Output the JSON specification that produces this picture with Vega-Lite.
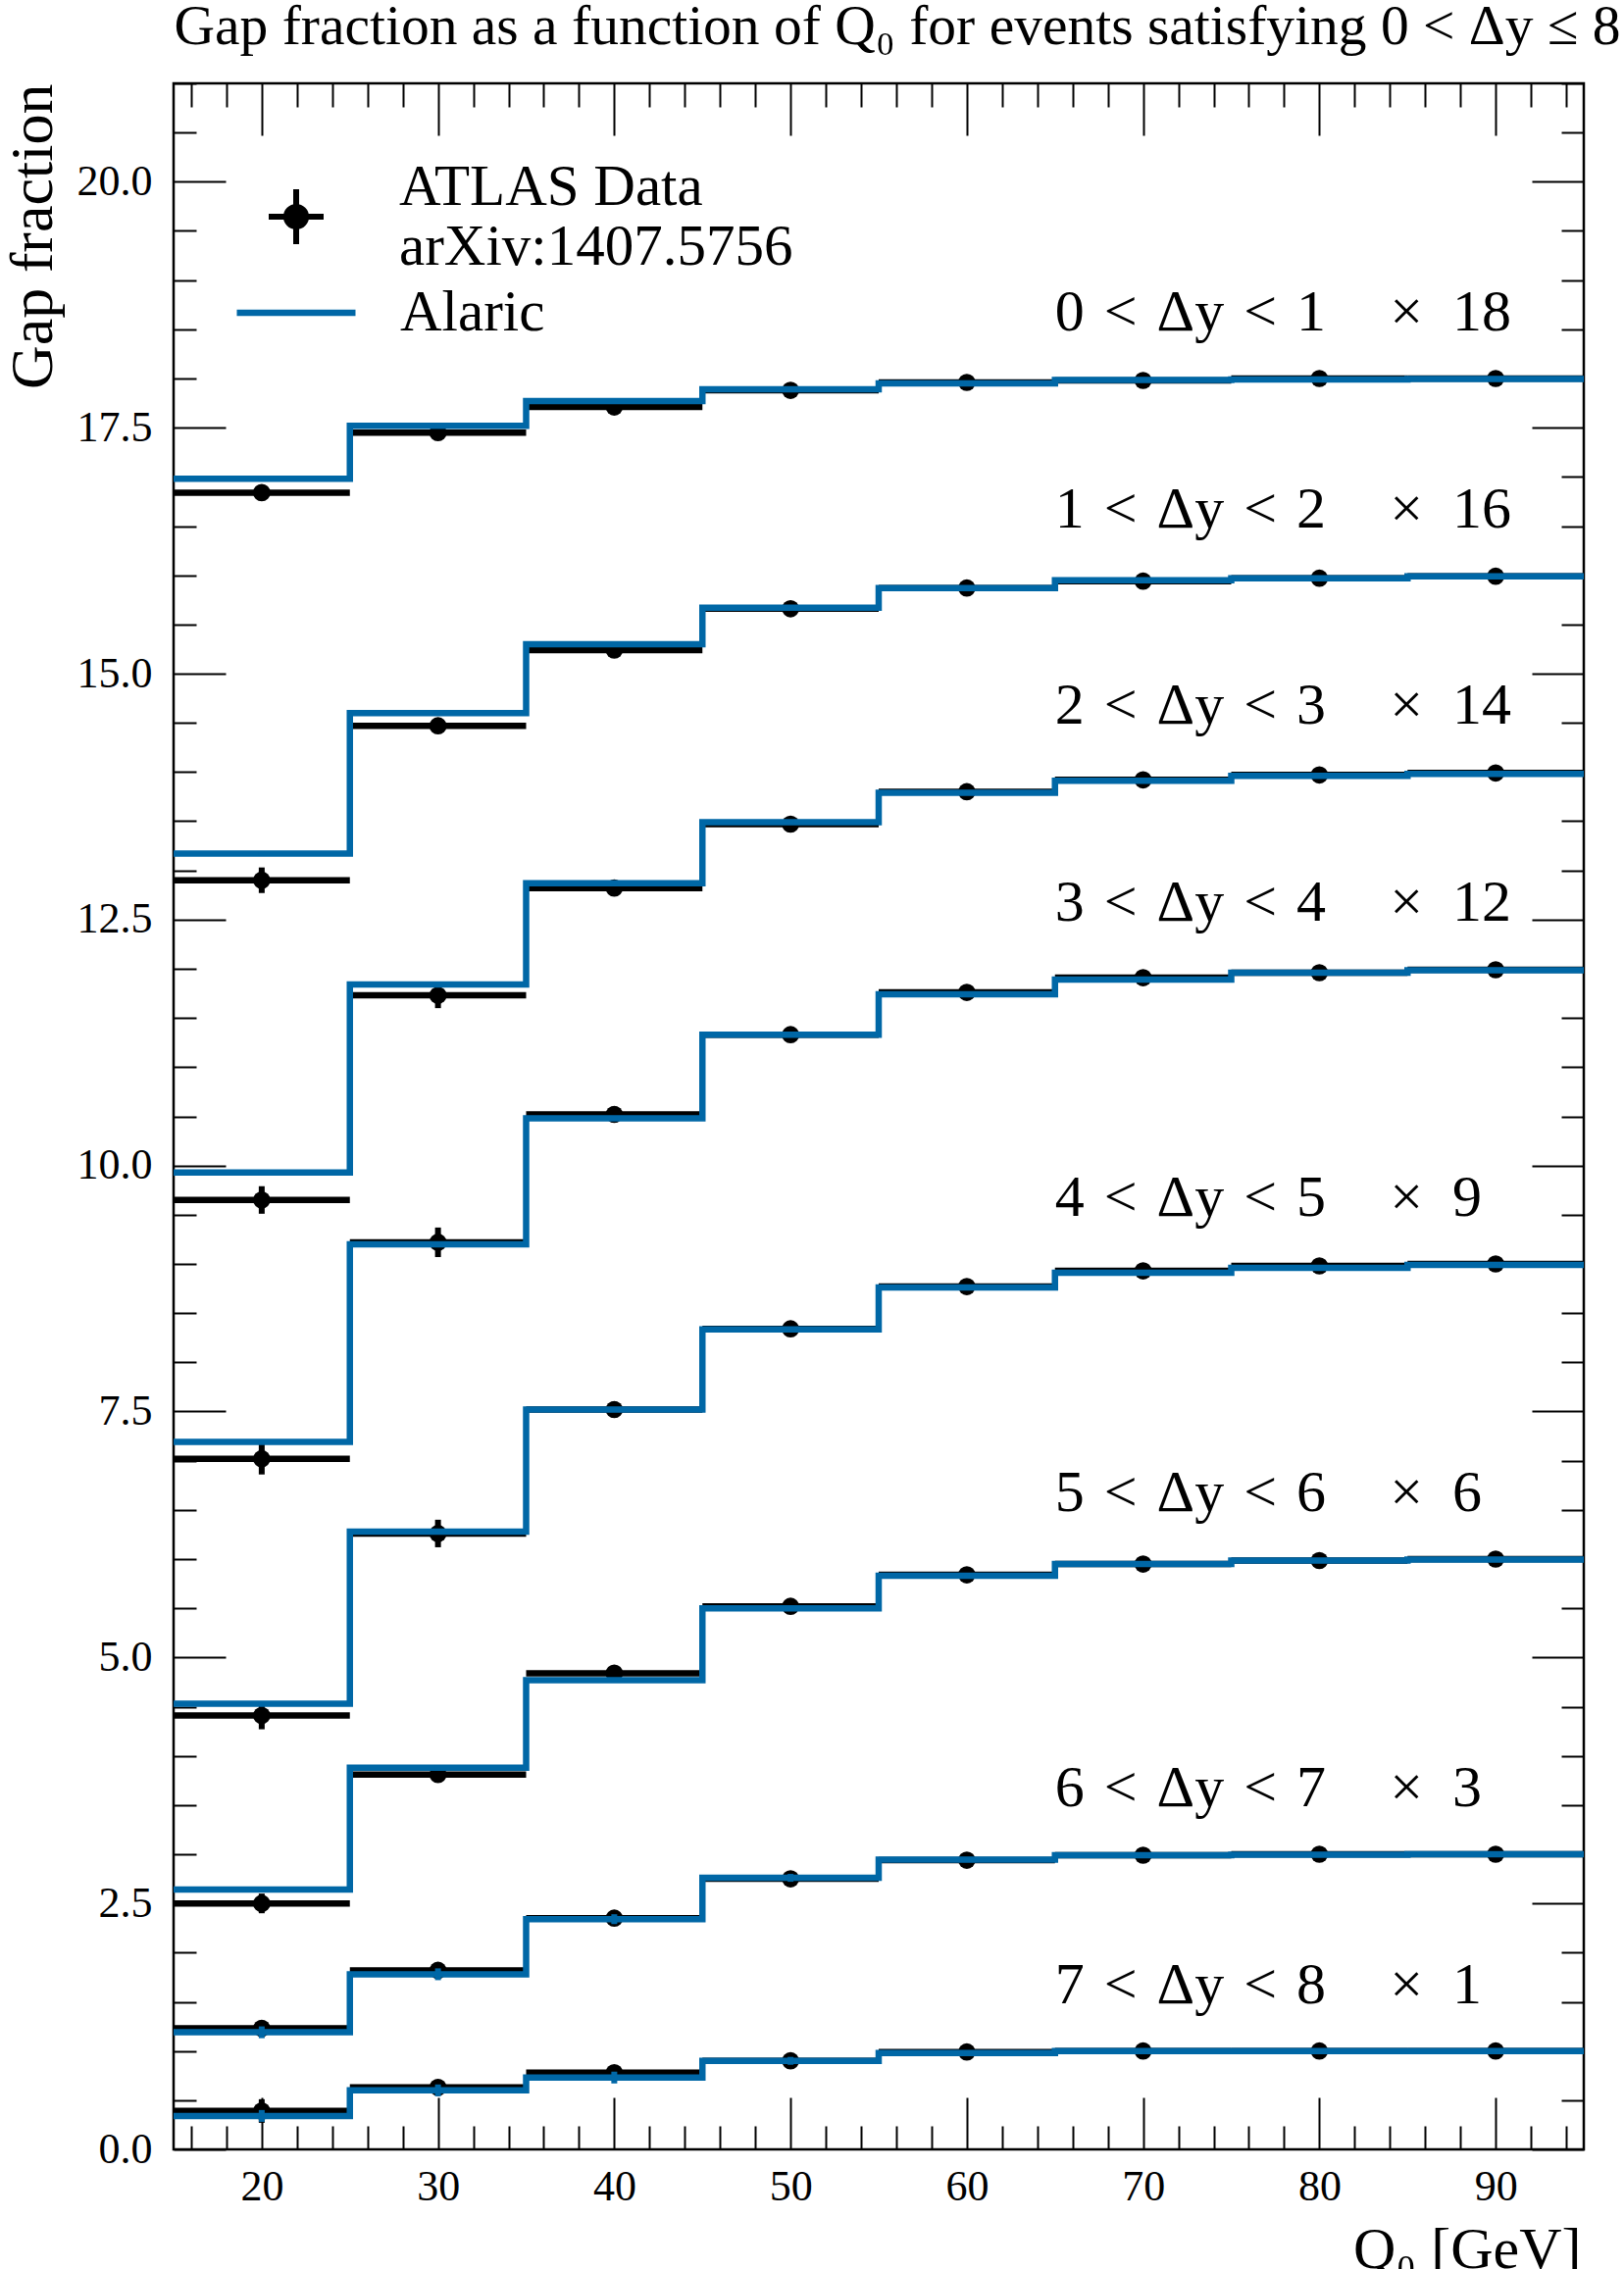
{
  "$schema": "https://vega.github.io/schema/vega-lite/v6.json",
  "width": 1438,
  "height": 2107,
  "autosize": {"type": "none"},
  "padding": {"left": 177, "top": 85, "right": 41, "bottom": 122},
  "background": "white",
  "config": {
    "font": "Liberation Serif",
    "view": {"stroke": "black", "strokeWidth": 2.5}
  },
  "datasets": {
    "bins": [
      {"dy": "0 < \u0394y < 1", "factor": 18, "q0": 20, "lo": 15, "hi": 25, "data": 16.84, "err": 0.06, "mc": 16.98, "mcErr": 0.02},
      {"dy": "0 < \u0394y < 1", "factor": 18, "q0": 30, "lo": 25, "hi": 35, "data": 17.45, "err": 0.04, "mc": 17.52, "mcErr": 0.02},
      {"dy": "0 < \u0394y < 1", "factor": 18, "q0": 40, "lo": 35, "hi": 45, "data": 17.71, "err": 0.03, "mc": 17.77, "mcErr": 0.02},
      {"dy": "0 < \u0394y < 1", "factor": 18, "q0": 50, "lo": 45, "hi": 55, "data": 17.88, "err": 0.02, "mc": 17.89, "mcErr": 0.02},
      {"dy": "0 < \u0394y < 1", "factor": 18, "q0": 60, "lo": 55, "hi": 65, "data": 17.96, "err": 0.02, "mc": 17.95, "mcErr": 0.02},
      {"dy": "0 < \u0394y < 1", "factor": 18, "q0": 70, "lo": 65, "hi": 75, "data": 17.98, "err": 0.02, "mc": 17.985, "mcErr": 0.02},
      {"dy": "0 < \u0394y < 1", "factor": 18, "q0": 80, "lo": 75, "hi": 85, "data": 18.0, "err": 0.02, "mc": 17.99, "mcErr": 0.02},
      {"dy": "0 < \u0394y < 1", "factor": 18, "q0": 90, "lo": 85, "hi": 95, "data": 18.0, "err": 0.02, "mc": 17.995, "mcErr": 0.02},

      {"dy": "1 < \u0394y < 2", "factor": 16, "q0": 20, "lo": 15, "hi": 25, "data": 12.9, "err": 0.13, "mc": 13.17, "mcErr": 0.02},
      {"dy": "1 < \u0394y < 2", "factor": 16, "q0": 30, "lo": 25, "hi": 35, "data": 14.47, "err": 0.06, "mc": 14.6, "mcErr": 0.02},
      {"dy": "1 < \u0394y < 2", "factor": 16, "q0": 40, "lo": 35, "hi": 45, "data": 15.24, "err": 0.04, "mc": 15.3, "mcErr": 0.02},
      {"dy": "1 < \u0394y < 2", "factor": 16, "q0": 50, "lo": 45, "hi": 55, "data": 15.66, "err": 0.03, "mc": 15.67, "mcErr": 0.02},
      {"dy": "1 < \u0394y < 2", "factor": 16, "q0": 60, "lo": 55, "hi": 65, "data": 15.87, "err": 0.02, "mc": 15.87, "mcErr": 0.02},
      {"dy": "1 < \u0394y < 2", "factor": 16, "q0": 70, "lo": 65, "hi": 75, "data": 15.94, "err": 0.02, "mc": 15.95, "mcErr": 0.02},
      {"dy": "1 < \u0394y < 2", "factor": 16, "q0": 80, "lo": 75, "hi": 85, "data": 15.97, "err": 0.02, "mc": 15.97, "mcErr": 0.02},
      {"dy": "1 < \u0394y < 2", "factor": 16, "q0": 90, "lo": 85, "hi": 95, "data": 15.99, "err": 0.02, "mc": 15.99, "mcErr": 0.02},

      {"dy": "2 < \u0394y < 3", "factor": 14, "q0": 20, "lo": 15, "hi": 25, "data": 9.65, "err": 0.14, "mc": 9.93, "mcErr": 0.02},
      {"dy": "2 < \u0394y < 3", "factor": 14, "q0": 30, "lo": 25, "hi": 35, "data": 11.73, "err": 0.13, "mc": 11.84, "mcErr": 0.02},
      {"dy": "2 < \u0394y < 3", "factor": 14, "q0": 40, "lo": 35, "hi": 45, "data": 12.82, "err": 0.06, "mc": 12.87, "mcErr": 0.02},
      {"dy": "2 < \u0394y < 3", "factor": 14, "q0": 50, "lo": 45, "hi": 55, "data": 13.47, "err": 0.04, "mc": 13.49, "mcErr": 0.02},
      {"dy": "2 < \u0394y < 3", "factor": 14, "q0": 60, "lo": 55, "hi": 65, "data": 13.8, "err": 0.03, "mc": 13.79, "mcErr": 0.02},
      {"dy": "2 < \u0394y < 3", "factor": 14, "q0": 70, "lo": 65, "hi": 75, "data": 13.92, "err": 0.02, "mc": 13.91, "mcErr": 0.02},
      {"dy": "2 < \u0394y < 3", "factor": 14, "q0": 80, "lo": 75, "hi": 85, "data": 13.97, "err": 0.02, "mc": 13.96, "mcErr": 0.02},
      {"dy": "2 < \u0394y < 3", "factor": 14, "q0": 90, "lo": 85, "hi": 95, "data": 13.99, "err": 0.02, "mc": 13.98, "mcErr": 0.02},

      {"dy": "3 < \u0394y < 4", "factor": 12, "q0": 20, "lo": 15, "hi": 25, "data": 7.02, "err": 0.16, "mc": 7.19, "mcErr": 0.02},
      {"dy": "3 < \u0394y < 4", "factor": 12, "q0": 30, "lo": 25, "hi": 35, "data": 9.22, "err": 0.15, "mc": 9.2, "mcErr": 0.02},
      {"dy": "3 < \u0394y < 4", "factor": 12, "q0": 40, "lo": 35, "hi": 45, "data": 10.52, "err": 0.08, "mc": 10.48, "mcErr": 0.02},
      {"dy": "3 < \u0394y < 4", "factor": 12, "q0": 50, "lo": 45, "hi": 55, "data": 11.33, "err": 0.05, "mc": 11.33, "mcErr": 0.02},
      {"dy": "3 < \u0394y < 4", "factor": 12, "q0": 60, "lo": 55, "hi": 65, "data": 11.76, "err": 0.03, "mc": 11.74, "mcErr": 0.02},
      {"dy": "3 < \u0394y < 4", "factor": 12, "q0": 70, "lo": 65, "hi": 75, "data": 11.91, "err": 0.02, "mc": 11.89, "mcErr": 0.02},
      {"dy": "3 < \u0394y < 4", "factor": 12, "q0": 80, "lo": 75, "hi": 85, "data": 11.96, "err": 0.02, "mc": 11.96, "mcErr": 0.02},
      {"dy": "3 < \u0394y < 4", "factor": 12, "q0": 90, "lo": 85, "hi": 95, "data": 11.99, "err": 0.02, "mc": 11.985, "mcErr": 0.02},

      {"dy": "4 < \u0394y < 5", "factor": 9, "q0": 20, "lo": 15, "hi": 25, "data": 4.41, "err": 0.14, "mc": 4.53, "mcErr": 0.02},
      {"dy": "4 < \u0394y < 5", "factor": 9, "q0": 30, "lo": 25, "hi": 35, "data": 6.26, "err": 0.14, "mc": 6.28, "mcErr": 0.02},
      {"dy": "4 < \u0394y < 5", "factor": 9, "q0": 40, "lo": 35, "hi": 45, "data": 7.52, "err": 0.08, "mc": 7.52, "mcErr": 0.02},
      {"dy": "4 < \u0394y < 5", "factor": 9, "q0": 50, "lo": 45, "hi": 55, "data": 8.34, "err": 0.05, "mc": 8.335, "mcErr": 0.02},
      {"dy": "4 < \u0394y < 5", "factor": 9, "q0": 60, "lo": 55, "hi": 65, "data": 8.77, "err": 0.03, "mc": 8.76, "mcErr": 0.02},
      {"dy": "4 < \u0394y < 5", "factor": 9, "q0": 70, "lo": 65, "hi": 75, "data": 8.93, "err": 0.02, "mc": 8.91, "mcErr": 0.02},
      {"dy": "4 < \u0394y < 5", "factor": 9, "q0": 80, "lo": 75, "hi": 85, "data": 8.98, "err": 0.02, "mc": 8.96, "mcErr": 0.02},
      {"dy": "4 < \u0394y < 5", "factor": 9, "q0": 90, "lo": 85, "hi": 95, "data": 9.0, "err": 0.02, "mc": 8.99, "mcErr": 0.02},

      {"dy": "5 < \u0394y < 6", "factor": 6, "q0": 20, "lo": 15, "hi": 25, "data": 2.5, "err": 0.1, "mc": 2.64, "mcErr": 0.02},
      {"dy": "5 < \u0394y < 6", "factor": 6, "q0": 30, "lo": 25, "hi": 35, "data": 3.81, "err": 0.08, "mc": 3.88, "mcErr": 0.02},
      {"dy": "5 < \u0394y < 6", "factor": 6, "q0": 40, "lo": 35, "hi": 45, "data": 4.84, "err": 0.06, "mc": 4.77, "mcErr": 0.02},
      {"dy": "5 < \u0394y < 6", "factor": 6, "q0": 50, "lo": 45, "hi": 55, "data": 5.52, "err": 0.04, "mc": 5.5, "mcErr": 0.02},
      {"dy": "5 < \u0394y < 6", "factor": 6, "q0": 60, "lo": 55, "hi": 65, "data": 5.84, "err": 0.03, "mc": 5.83, "mcErr": 0.02},
      {"dy": "5 < \u0394y < 6", "factor": 6, "q0": 70, "lo": 65, "hi": 75, "data": 5.95, "err": 0.02, "mc": 5.95, "mcErr": 0.02},
      {"dy": "5 < \u0394y < 6", "factor": 6, "q0": 80, "lo": 75, "hi": 85, "data": 5.985, "err": 0.02, "mc": 5.985, "mcErr": 0.02},
      {"dy": "5 < \u0394y < 6", "factor": 6, "q0": 90, "lo": 85, "hi": 95, "data": 6.0, "err": 0.02, "mc": 5.995, "mcErr": 0.02},

      {"dy": "6 < \u0394y < 7", "factor": 3, "q0": 20, "lo": 15, "hi": 25, "data": 1.23, "err": 0.08, "mc": 1.19, "mcErr": 0.06},
      {"dy": "6 < \u0394y < 7", "factor": 3, "q0": 30, "lo": 25, "hi": 35, "data": 1.82, "err": 0.06, "mc": 1.78, "mcErr": 0.06},
      {"dy": "6 < \u0394y < 7", "factor": 3, "q0": 40, "lo": 35, "hi": 45, "data": 2.35, "err": 0.05, "mc": 2.34, "mcErr": 0.05},
      {"dy": "6 < \u0394y < 7", "factor": 3, "q0": 50, "lo": 45, "hi": 55, "data": 2.75, "err": 0.04, "mc": 2.76, "mcErr": 0.04},
      {"dy": "6 < \u0394y < 7", "factor": 3, "q0": 60, "lo": 55, "hi": 65, "data": 2.94, "err": 0.03, "mc": 2.945, "mcErr": 0.02},
      {"dy": "6 < \u0394y < 7", "factor": 3, "q0": 70, "lo": 65, "hi": 75, "data": 2.99, "err": 0.02, "mc": 2.99, "mcErr": 0.02},
      {"dy": "6 < \u0394y < 7", "factor": 3, "q0": 80, "lo": 75, "hi": 85, "data": 3.0, "err": 0.02, "mc": 2.995, "mcErr": 0.02},
      {"dy": "6 < \u0394y < 7", "factor": 3, "q0": 90, "lo": 85, "hi": 95, "data": 3.0, "err": 0.02, "mc": 3.0, "mcErr": 0.02},

      {"dy": "7 < \u0394y < 8", "factor": 1, "q0": 20, "lo": 15, "hi": 25, "data": 0.39, "err": 0.12, "mc": 0.34, "mcErr": 0.06},
      {"dy": "7 < \u0394y < 8", "factor": 1, "q0": 30, "lo": 25, "hi": 35, "data": 0.63, "err": 0.08, "mc": 0.6, "mcErr": 0.06},
      {"dy": "7 < \u0394y < 8", "factor": 1, "q0": 40, "lo": 35, "hi": 45, "data": 0.78, "err": 0.06, "mc": 0.73, "mcErr": 0.06},
      {"dy": "7 < \u0394y < 8", "factor": 1, "q0": 50, "lo": 45, "hi": 55, "data": 0.9, "err": 0.04, "mc": 0.9, "mcErr": 0.04},
      {"dy": "7 < \u0394y < 8", "factor": 1, "q0": 60, "lo": 55, "hi": 65, "data": 0.99, "err": 0.03, "mc": 0.98, "mcErr": 0.02},
      {"dy": "7 < \u0394y < 8", "factor": 1, "q0": 70, "lo": 65, "hi": 75, "data": 1.0, "err": 0.02, "mc": 1.0, "mcErr": 0.02},
      {"dy": "7 < \u0394y < 8", "factor": 1, "q0": 80, "lo": 75, "hi": 85, "data": 1.0, "err": 0.02, "mc": 1.0, "mcErr": 0.02},
      {"dy": "7 < \u0394y < 8", "factor": 1, "q0": 90, "lo": 85, "hi": 95, "data": 1.0, "err": 0.02, "mc": 1.0, "mcErr": 0.02}
    ],
    "labels": [
      {"range": "0\u2004<\u2004\u0394y\u2004<\u20041", "mult": "\u00d7\u200218", "factor": 18},
      {"range": "1\u2004<\u2004\u0394y\u2004<\u20042", "mult": "\u00d7\u200216", "factor": 16},
      {"range": "2\u2004<\u2004\u0394y\u2004<\u20043", "mult": "\u00d7\u200214", "factor": 14},
      {"range": "3\u2004<\u2004\u0394y\u2004<\u20044", "mult": "\u00d7\u200212", "factor": 12},
      {"range": "4\u2004<\u2004\u0394y\u2004<\u20045", "mult": "\u00d7\u20029", "factor": 9},
      {"range": "5\u2004<\u2004\u0394y\u2004<\u20046", "mult": "\u00d7\u20026", "factor": 6},
      {"range": "6\u2004<\u2004\u0394y\u2004<\u20047", "mult": "\u00d7\u20023", "factor": 3},
      {"range": "7\u2004<\u2004\u0394y\u2004<\u20048", "mult": "\u00d7\u20021", "factor": 1}
    ]
  },
  "resolve": {"axis": {"x": "independent", "y": "independent"}},
  "layer": [
    {
      "data": {"name": "bins"},
      "mark": {"type": "rule", "color": "black", "strokeWidth": 6.5, "clip": true},
      "encoding": {
        "x": {
          "field": "lo", "type": "quantitative",
          "scale": {"domain": [15, 95], "nice": false, "zero": false},
          "axis": {
            "orient": "bottom",
            "values": [16, 18, 20, 22, 24, 26, 28, 30, 32, 34, 36, 38, 40, 42, 44, 46, 48, 50, 52, 54, 56, 58, 60, 62, 64, 66, 68, 70, 72, 74, 76, 78, 80, 82, 84, 86, 88, 90, 92, 94],
            "domain": false, "grid": false,
            "tickColor": "black", "tickWidth": 2,
            "tickSize": {"condition": {"test": "datum.value % 10 === 0", "value": -53}, "value": -24},
            "labelExpr": "datum.value % 10 === 0 ? datum.label : ''",
            "labelFont": "Liberation Serif", "labelFontSize": 44, "labelColor": "black",
            "labelPadding": 69, "labelBaseline": "top", "labelAlign": "center",
            "labelFlush": false, "labelOverlap": false,
            "title": "Q\u2080 [GeV]",
            "titleFont": "Liberation Serif", "titleFontSize": 60, "titleFontWeight": "normal", "titleColor": "black",
            "titleAlign": "right", "titleBaseline": "alphabetic", "titleAnchor": "end",
            "titleX": 1435, "titleY": 120
          }
        },
        "x2": {"field": "hi"},
        "y": {
          "field": "data", "type": "quantitative",
          "scale": {"domain": [0, 21], "nice": false, "zero": false},
          "axis": {
            "orient": "left",
            "values": [0, 0.5, 1, 1.5, 2, 2.5, 3, 3.5, 4, 4.5, 5, 5.5, 6, 6.5, 7, 7.5, 8, 8.5, 9, 9.5, 10, 10.5, 11, 11.5, 12, 12.5, 13, 13.5, 14, 14.5, 15, 15.5, 16, 16.5, 17, 17.5, 18, 18.5, 19, 19.5, 20, 20.5, 21],
            "domain": false, "grid": false,
            "tickColor": "black", "tickWidth": 2,
            "tickSize": {"condition": {"test": "datum.value % 2.5 === 0", "value": -53}, "value": -23},
            "labelExpr": "datum.value % 2.5 === 0 ? format(datum.value, '.1f') : ''",
            "labelFont": "Liberation Serif", "labelFontSize": 44, "labelColor": "black",
            "labelPadding": 75, "labelAlign": "right", "labelBaseline": "middle",
            "labelFlush": false, "labelOverlap": false,
            "title": "Gap fraction",
            "titleFont": "Liberation Serif", "titleFontSize": 62, "titleFontWeight": "normal", "titleColor": "black",
            "titleAngle": -90, "titleAlign": "right", "titleBaseline": "alphabetic", "titleAnchor": "end",
            "titleX": -125, "titleY": 0
          }
        }
      }
    },
    {
      "data": {"name": "bins"},
      "mark": {"type": "errorbar", "color": "black", "thickness": 6, "ticks": false, "clip": true},
      "encoding": {
        "x": {"field": "q0", "type": "quantitative", "axis": null},
        "y": {"field": "data", "type": "quantitative", "axis": null},
        "yError": {"field": "err"}
      }
    },
    {
      "data": {"name": "bins"},
      "mark": {"type": "point", "filled": true, "size": 314, "opacity": 1, "strokeWidth": 0, "clip": true},
      "encoding": {
        "x": {
          "field": "q0", "type": "quantitative",
          "axis": {
            "orient": "top",
            "values": [16, 18, 20, 22, 24, 26, 28, 30, 32, 34, 36, 38, 40, 42, 44, 46, 48, 50, 52, 54, 56, 58, 60, 62, 64, 66, 68, 70, 72, 74, 76, 78, 80, 82, 84, 86, 88, 90, 92, 94],
            "domain": false, "grid": false, "labels": false,
            "tickColor": "black", "tickWidth": 2,
            "tickSize": {"condition": {"test": "datum.value % 10 === 0", "value": -53}, "value": -24},
            "title": "Gap fraction as a function of Q\u2080 for events satisfying 0 < \u0394y \u2264 8",
            "titleFont": "Liberation Serif", "titleFontSize": 57.5, "titleFontWeight": "normal", "titleColor": "black",
            "titleAlign": "left", "titleAnchor": "start", "titleBaseline": "alphabetic",
            "titleX": 0, "titleY": -41
          }
        },
        "y": {
          "field": "data", "type": "quantitative",
          "axis": {
            "orient": "right",
            "values": [0, 0.5, 1, 1.5, 2, 2.5, 3, 3.5, 4, 4.5, 5, 5.5, 6, 6.5, 7, 7.5, 8, 8.5, 9, 9.5, 10, 10.5, 11, 11.5, 12, 12.5, 13, 13.5, 14, 14.5, 15, 15.5, 16, 16.5, 17, 17.5, 18, 18.5, 19, 19.5, 20, 20.5, 21],
            "domain": false, "grid": false, "labels": false, "title": null,
            "tickColor": "black", "tickWidth": 2,
            "tickSize": {"condition": {"test": "datum.value % 2.5 === 0", "value": -53}, "value": -23}
          }
        },
        "fill": {
          "datum": "ATLAS Data",
          "scale": {"range": ["black"]},
          "legend": {
            "orient": "none", "legendX": 66, "legendY": 77,
            "title": null, "padding": 0,
            "symbolType": "M-0.5,0H0.5M0,-0.5V0.5M0.18,0A0.18,0.18,0,1,1,-0.18,0A0.18,0.18,0,1,1,0.18,0Z",
            "symbolSize": 12544, "symbolStrokeWidth": 6, "symbolStrokeColor": "black", "symbolFillColor": "black",
            "symbolOpacity": 1,
            "labelFont": "Liberation Serif", "labelFontSize": 59, "labelColor": "black", "labelLimit": 0,
            "labelOffset": 46, "labelBaseline": "bottom",
            "labelExpr": "['ATLAS Data', 'arXiv:1407.5756']"
          }
        }
      }
    },
    {
      "data": {"name": "bins"},
      "transform": [{"fold": ["lo", "hi"], "as": ["side", "edge"]}],
      "mark": {"type": "line", "strokeWidth": 6.5, "strokeJoin": "miter", "clip": true},
      "encoding": {
        "x": {"field": "edge", "type": "quantitative", "axis": null},
        "y": {"field": "mc", "type": "quantitative", "axis": null},
        "detail": {"field": "dy", "type": "nominal"},
        "order": [{"field": "q0", "type": "quantitative"}, {"field": "edge", "type": "quantitative"}],
        "stroke": {
          "datum": "Alaric",
          "scale": {"range": ["#0067a6"]},
          "legend": {
            "orient": "none", "legendX": 61, "legendY": 170,
            "title": null, "padding": 0,
            "symbolType": "stroke", "symbolSize": 14641, "symbolStrokeWidth": 6.5,
            "labelFont": "Liberation Serif", "labelFontSize": 59, "labelColor": "black", "labelLimit": 0,
            "labelOffset": 42, "labelBaseline": "middle"
          }
        }
      }
    },
    {
      "data": {"name": "bins"},
      "mark": {"type": "errorbar", "color": "#0067a6", "thickness": 6, "ticks": false, "clip": true},
      "encoding": {
        "x": {"field": "q0", "type": "quantitative", "axis": null},
        "y": {"field": "mc", "type": "quantitative", "axis": null},
        "yError": {"field": "mcErr"}
      }
    },
    {
      "data": {"name": "labels"},
      "mark": {"type": "text", "align": "left", "baseline": "alphabetic", "dy": -49, "font": "Liberation Serif", "fontSize": 60, "color": "black"},
      "encoding": {
        "x": {"datum": 65, "type": "quantitative", "axis": null},
        "y": {"field": "factor", "type": "quantitative", "axis": null},
        "text": {"field": "range"}
      }
    },
    {
      "data": {"name": "labels"},
      "mark": {"type": "text", "align": "left", "baseline": "alphabetic", "dy": -49, "font": "Liberation Serif", "fontSize": 60, "color": "black"},
      "encoding": {
        "x": {"datum": 84, "type": "quantitative", "axis": null},
        "y": {"field": "factor", "type": "quantitative", "axis": null},
        "text": {"field": "mult"}
      }
    }
  ]
}
